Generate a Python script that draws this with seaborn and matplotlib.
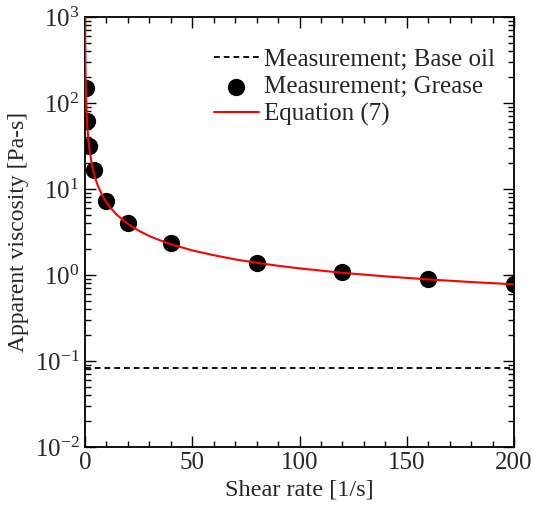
import numpy as np
import pandas as pd
import seaborn as sns
import matplotlib
matplotlib.use("Agg")
import matplotlib.pyplot as plt
from matplotlib.ticker import LogLocator, MultipleLocator, LogFormatterMathtext

# measured grease viscosity
grease_rate = [0.3, 1, 2, 4, 10, 20, 40, 80, 120, 160, 200]
grease_visc = [149, 62, 32, 16.6, 7.2, 4.05, 2.35, 1.38, 1.08, 0.89, 0.78]

# base oil viscosity (constant)
base_rate = [0, 200]
base_visc = [0.0835, 0.0835]

# equation (7) curve
eq_rate = [0.053, 0.07, 0.1, 0.15, 0.2, 0.3, 0.5, 0.75, 1, 1.5, 2, 3, 4, 5, 6,
           8, 10, 12, 15, 20, 25, 30, 35, 40, 50, 60, 70, 80, 90, 100, 120,
           140, 160, 180, 200]
eq_visc = [1000, 757, 533, 358, 270, 182, 110.9, 75.2, 57.1, 38.9, 29.8, 20.4,
           15.7, 12.87, 10.9, 8.5, 7.0, 6.0, 4.97, 3.93, 3.28, 2.84, 2.53, 2.28,
           1.935, 1.70, 1.52, 1.39, 1.282, 1.195, 1.061, 0.965, 0.889, 0.829,
           0.78]

sns.set_style("ticks")
plt.rcParams["font.family"] = ["Liberation Serif", "DejaVu Serif"]
plt.rcParams["mathtext.fontset"] = "custom"
plt.rcParams["mathtext.rm"] = "Liberation Serif"
plt.rcParams["mathtext.it"] = "Liberation Serif:italic"
plt.rcParams["font.size"] = 17

fig = plt.figure(figsize=(5.33, 5.08), dpi=100)
ax = fig.add_axes([0.1595, 0.120, 0.805, 0.8465])

base_df = pd.DataFrame({"rate": base_rate, "visc": base_visc})
grease_df = pd.DataFrame({"rate": grease_rate, "visc": grease_visc})
eq_df = pd.DataFrame({"rate": eq_rate, "visc": eq_visc})

sns.lineplot(data=base_df, x="rate", y="visc", ax=ax, color="black",
             linestyle=(0, (3.2, 2.2)), linewidth=1.3, label="Measurement; Base oil")
sns.scatterplot(data=grease_df, x="rate", y="visc", ax=ax, color="black",
                s=155, edgecolor="black", linewidth=0, zorder=3,
                label="Measurement; Grease")
sns.lineplot(data=eq_df, x="rate", y="visc", ax=ax, color="red",
             linewidth=1.5, label="Equation (7)", zorder=4)

ax.set_yscale("log")
ax.set_xlim(0, 200)
ax.set_ylim(1e-2, 1e3)
ax.xaxis.set_major_locator(MultipleLocator(50))
ax.xaxis.set_minor_locator(MultipleLocator(10))
ax.yaxis.set_major_locator(LogLocator(base=10, numticks=10))
ax.yaxis.set_minor_locator(LogLocator(base=10, subs=np.arange(2, 10), numticks=10))
ax.yaxis.set_major_formatter(LogFormatterMathtext())
ax.tick_params(which="both", direction="in", top=True, right=True,
               width=1, color="black")
ax.tick_params(axis="x", labelsize=18)
ax.tick_params(axis="y", labelsize=18, pad=4)
ax.tick_params(which="major", length=8)
ax.tick_params(which="minor", length=4)
for sp in ax.spines.values():
    sp.set_linewidth(1.3)
    sp.set_color("black")

ax.set_xlabel("Shear rate [1/s]", fontsize=17.5)
ax.set_ylabel("Apparent viscosity [Pa-s]", fontsize=17)

ax.legend(loc="upper right", bbox_to_anchor=(0.99, 0.962), frameon=False,
          fontsize=18, handlelength=1.8, handletextpad=0.2, borderaxespad=0.2,
          labelspacing=0.2)

fig.savefig("out.png", dpi=100)
